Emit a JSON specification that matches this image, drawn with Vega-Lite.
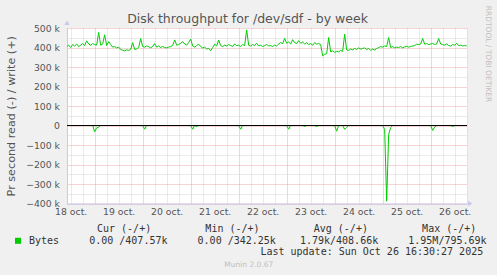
{
  "$schema": "https://vega.github.io/schema/vega-lite/v6.json",
  "autosize": {"type": "none"},
  "padding": {"left": 67, "top": 28, "right": 30, "bottom": 71.5},
  "width": 400,
  "height": 175.5,
  "background": "#f0f0f0",
  "title": {"text": "Disk throughput for /dev/sdf - by week", "font": "DejaVu Sans", "fontSize": 12.5, "fontWeight": "normal", "color": "#555555", "anchor": "middle", "frame": "group", "dx": -19.5, "dy": 26, "offset": 6},
  "config": {"view": {"stroke": null, "fill": "white"}},
  "data": {"values": [
    {"time":"2025-10-18T10:00:00Z","write":405000,"read":0},
    {"time":"2025-10-18T11:00:00Z","write":412000,"read":0},
    {"time":"2025-10-18T12:00:00Z","write":400000,"read":0},
    {"time":"2025-10-18T13:00:00Z","write":415000,"read":0},
    {"time":"2025-10-18T14:00:00Z","write":408000,"read":0},
    {"time":"2025-10-18T15:00:00Z","write":418000,"read":0},
    {"time":"2025-10-18T16:00:00Z","write":404000,"read":0},
    {"time":"2025-10-18T17:00:00Z","write":412000,"read":0},
    {"time":"2025-10-18T18:00:00Z","write":420000,"read":0},
    {"time":"2025-10-18T19:00:00Z","write":410000,"read":0},
    {"time":"2025-10-18T20:00:00Z","write":434000,"read":0},
    {"time":"2025-10-18T21:00:00Z","write":418000,"read":0},
    {"time":"2025-10-18T22:00:00Z","write":412000,"read":0},
    {"time":"2025-10-18T23:00:00Z","write":420000,"read":0},
    {"time":"2025-10-19T00:00:00Z","write":415000,"read":-32000},
    {"time":"2025-10-19T01:00:00Z","write":412000,"read":-12000},
    {"time":"2025-10-19T02:00:00Z","write":477000,"read":-8000},
    {"time":"2025-10-19T03:00:00Z","write":412000,"read":0},
    {"time":"2025-10-19T04:00:00Z","write":418000,"read":0},
    {"time":"2025-10-19T05:00:00Z","write":465000,"read":0},
    {"time":"2025-10-19T06:00:00Z","write":410000,"read":0},
    {"time":"2025-10-19T07:00:00Z","write":430000,"read":0},
    {"time":"2025-10-19T08:00:00Z","write":415000,"read":0},
    {"time":"2025-10-19T09:00:00Z","write":402000,"read":0},
    {"time":"2025-10-19T10:00:00Z","write":405000,"read":0},
    {"time":"2025-10-19T11:00:00Z","write":398000,"read":0},
    {"time":"2025-10-19T12:00:00Z","write":402000,"read":0},
    {"time":"2025-10-19T13:00:00Z","write":390000,"read":0},
    {"time":"2025-10-19T14:00:00Z","write":386000,"read":0},
    {"time":"2025-10-19T15:00:00Z","write":383000,"read":0},
    {"time":"2025-10-19T16:00:00Z","write":388000,"read":0},
    {"time":"2025-10-19T17:00:00Z","write":385000,"read":0},
    {"time":"2025-10-19T18:00:00Z","write":390000,"read":0},
    {"time":"2025-10-19T19:00:00Z","write":425000,"read":0},
    {"time":"2025-10-19T20:00:00Z","write":390000,"read":0},
    {"time":"2025-10-19T21:00:00Z","write":392000,"read":0},
    {"time":"2025-10-19T22:00:00Z","write":400000,"read":0},
    {"time":"2025-10-19T23:00:00Z","write":446000,"read":0},
    {"time":"2025-10-20T00:00:00Z","write":405000,"read":0},
    {"time":"2025-10-20T01:00:00Z","write":402000,"read":-19000},
    {"time":"2025-10-20T02:00:00Z","write":408000,"read":0},
    {"time":"2025-10-20T03:00:00Z","write":404000,"read":0},
    {"time":"2025-10-20T04:00:00Z","write":398000,"read":0},
    {"time":"2025-10-20T05:00:00Z","write":405000,"read":0},
    {"time":"2025-10-20T06:00:00Z","write":420000,"read":0},
    {"time":"2025-10-20T07:00:00Z","write":402000,"read":0},
    {"time":"2025-10-20T08:00:00Z","write":408000,"read":0},
    {"time":"2025-10-20T09:00:00Z","write":400000,"read":0},
    {"time":"2025-10-20T10:00:00Z","write":405000,"read":0},
    {"time":"2025-10-20T11:00:00Z","write":400000,"read":0},
    {"time":"2025-10-20T12:00:00Z","write":398000,"read":0},
    {"time":"2025-10-20T13:00:00Z","write":402000,"read":0},
    {"time":"2025-10-20T14:00:00Z","write":405000,"read":0},
    {"time":"2025-10-20T15:00:00Z","write":410000,"read":0},
    {"time":"2025-10-20T16:00:00Z","write":439000,"read":0},
    {"time":"2025-10-20T17:00:00Z","write":412000,"read":0},
    {"time":"2025-10-20T18:00:00Z","write":415000,"read":0},
    {"time":"2025-10-20T19:00:00Z","write":422000,"read":0},
    {"time":"2025-10-20T20:00:00Z","write":430000,"read":0},
    {"time":"2025-10-20T21:00:00Z","write":418000,"read":0},
    {"time":"2025-10-20T22:00:00Z","write":412000,"read":0},
    {"time":"2025-10-20T23:00:00Z","write":425000,"read":0},
    {"time":"2025-10-21T00:00:00Z","write":443000,"read":0},
    {"time":"2025-10-21T01:00:00Z","write":408000,"read":-19000},
    {"time":"2025-10-21T02:00:00Z","write":402000,"read":0},
    {"time":"2025-10-21T03:00:00Z","write":410000,"read":-5000},
    {"time":"2025-10-21T04:00:00Z","write":417000,"read":0},
    {"time":"2025-10-21T05:00:00Z","write":405000,"read":0},
    {"time":"2025-10-21T06:00:00Z","write":398000,"read":0},
    {"time":"2025-10-21T07:00:00Z","write":402000,"read":0},
    {"time":"2025-10-21T08:00:00Z","write":392000,"read":0},
    {"time":"2025-10-21T09:00:00Z","write":396000,"read":0},
    {"time":"2025-10-21T10:00:00Z","write":383000,"read":0},
    {"time":"2025-10-21T11:00:00Z","write":400000,"read":0},
    {"time":"2025-10-21T12:00:00Z","write":417000,"read":0},
    {"time":"2025-10-21T13:00:00Z","write":408000,"read":0},
    {"time":"2025-10-21T14:00:00Z","write":438000,"read":0},
    {"time":"2025-10-21T15:00:00Z","write":410000,"read":0},
    {"time":"2025-10-21T16:00:00Z","write":405000,"read":0},
    {"time":"2025-10-21T17:00:00Z","write":412000,"read":0},
    {"time":"2025-10-21T18:00:00Z","write":408000,"read":0},
    {"time":"2025-10-21T19:00:00Z","write":415000,"read":0},
    {"time":"2025-10-21T20:00:00Z","write":410000,"read":0},
    {"time":"2025-10-21T21:00:00Z","write":406000,"read":0},
    {"time":"2025-10-21T22:00:00Z","write":418000,"read":0},
    {"time":"2025-10-21T23:00:00Z","write":410000,"read":0},
    {"time":"2025-10-22T00:00:00Z","write":412000,"read":0},
    {"time":"2025-10-22T01:00:00Z","write":405000,"read":-19000},
    {"time":"2025-10-22T02:00:00Z","write":415000,"read":0},
    {"time":"2025-10-22T03:00:00Z","write":410000,"read":0},
    {"time":"2025-10-22T04:00:00Z","write":490000,"read":0},
    {"time":"2025-10-22T05:00:00Z","write":412000,"read":0},
    {"time":"2025-10-22T06:00:00Z","write":408000,"read":0},
    {"time":"2025-10-22T07:00:00Z","write":415000,"read":0},
    {"time":"2025-10-22T08:00:00Z","write":410000,"read":0},
    {"time":"2025-10-22T09:00:00Z","write":422000,"read":0},
    {"time":"2025-10-22T10:00:00Z","write":408000,"read":0},
    {"time":"2025-10-22T11:00:00Z","write":412000,"read":0},
    {"time":"2025-10-22T12:00:00Z","write":405000,"read":0},
    {"time":"2025-10-22T13:00:00Z","write":410000,"read":0},
    {"time":"2025-10-22T14:00:00Z","write":415000,"read":0},
    {"time":"2025-10-22T15:00:00Z","write":408000,"read":0},
    {"time":"2025-10-22T16:00:00Z","write":410000,"read":0},
    {"time":"2025-10-22T17:00:00Z","write":405000,"read":0},
    {"time":"2025-10-22T18:00:00Z","write":412000,"read":0},
    {"time":"2025-10-22T19:00:00Z","write":408000,"read":0},
    {"time":"2025-10-22T20:00:00Z","write":418000,"read":0},
    {"time":"2025-10-22T21:00:00Z","write":425000,"read":0},
    {"time":"2025-10-22T22:00:00Z","write":420000,"read":0},
    {"time":"2025-10-22T23:00:00Z","write":447000,"read":0},
    {"time":"2025-10-23T00:00:00Z","write":422000,"read":0},
    {"time":"2025-10-23T01:00:00Z","write":428000,"read":-19000},
    {"time":"2025-10-23T02:00:00Z","write":418000,"read":0},
    {"time":"2025-10-23T03:00:00Z","write":440000,"read":0},
    {"time":"2025-10-23T04:00:00Z","write":425000,"read":0},
    {"time":"2025-10-23T05:00:00Z","write":420000,"read":0},
    {"time":"2025-10-23T06:00:00Z","write":435000,"read":0},
    {"time":"2025-10-23T07:00:00Z","write":422000,"read":0},
    {"time":"2025-10-23T08:00:00Z","write":428000,"read":0},
    {"time":"2025-10-23T09:00:00Z","write":418000,"read":-5000},
    {"time":"2025-10-23T10:00:00Z","write":425000,"read":0},
    {"time":"2025-10-23T11:00:00Z","write":415000,"read":0},
    {"time":"2025-10-23T12:00:00Z","write":420000,"read":0},
    {"time":"2025-10-23T13:00:00Z","write":412000,"read":0},
    {"time":"2025-10-23T14:00:00Z","write":425000,"read":0},
    {"time":"2025-10-23T15:00:00Z","write":418000,"read":-5000},
    {"time":"2025-10-23T16:00:00Z","write":420000,"read":0},
    {"time":"2025-10-23T17:00:00Z","write":415000,"read":0},
    {"time":"2025-10-23T18:00:00Z","write":357000,"read":0},
    {"time":"2025-10-23T19:00:00Z","write":365000,"read":0},
    {"time":"2025-10-23T20:00:00Z","write":368000,"read":0},
    {"time":"2025-10-23T21:00:00Z","write":451000,"read":0},
    {"time":"2025-10-23T22:00:00Z","write":378000,"read":0},
    {"time":"2025-10-23T23:00:00Z","write":383000,"read":0},
    {"time":"2025-10-24T00:00:00Z","write":375000,"read":0},
    {"time":"2025-10-24T01:00:00Z","write":380000,"read":-29000},
    {"time":"2025-10-24T02:00:00Z","write":378000,"read":0},
    {"time":"2025-10-24T03:00:00Z","write":385000,"read":0},
    {"time":"2025-10-24T04:00:00Z","write":380000,"read":0},
    {"time":"2025-10-24T05:00:00Z","write":468000,"read":-20000},
    {"time":"2025-10-24T06:00:00Z","write":388000,"read":-10000},
    {"time":"2025-10-24T07:00:00Z","write":385000,"read":0},
    {"time":"2025-10-24T08:00:00Z","write":392000,"read":0},
    {"time":"2025-10-24T09:00:00Z","write":388000,"read":0},
    {"time":"2025-10-24T10:00:00Z","write":395000,"read":0},
    {"time":"2025-10-24T11:00:00Z","write":390000,"read":0},
    {"time":"2025-10-24T12:00:00Z","write":398000,"read":0},
    {"time":"2025-10-24T13:00:00Z","write":392000,"read":0},
    {"time":"2025-10-24T14:00:00Z","write":395000,"read":0},
    {"time":"2025-10-24T15:00:00Z","write":398000,"read":0},
    {"time":"2025-10-24T16:00:00Z","write":390000,"read":0},
    {"time":"2025-10-24T17:00:00Z","write":395000,"read":0},
    {"time":"2025-10-24T18:00:00Z","write":385000,"read":0},
    {"time":"2025-10-24T19:00:00Z","write":392000,"read":0},
    {"time":"2025-10-24T20:00:00Z","write":388000,"read":0},
    {"time":"2025-10-24T21:00:00Z","write":395000,"read":0},
    {"time":"2025-10-24T22:00:00Z","write":400000,"read":0},
    {"time":"2025-10-24T23:00:00Z","write":405000,"read":0},
    {"time":"2025-10-25T00:00:00Z","write":402000,"read":0},
    {"time":"2025-10-25T01:00:00Z","write":408000,"read":-20000},
    {"time":"2025-10-25T02:00:00Z","write":405000,"read":-388000},
    {"time":"2025-10-25T03:00:00Z","write":451000,"read":-46000},
    {"time":"2025-10-25T04:00:00Z","write":400000,"read":-10000},
    {"time":"2025-10-25T05:00:00Z","write":405000,"read":0},
    {"time":"2025-10-25T06:00:00Z","write":398000,"read":0},
    {"time":"2025-10-25T07:00:00Z","write":402000,"read":0},
    {"time":"2025-10-25T08:00:00Z","write":400000,"read":0},
    {"time":"2025-10-25T09:00:00Z","write":405000,"read":0},
    {"time":"2025-10-25T10:00:00Z","write":398000,"read":0},
    {"time":"2025-10-25T11:00:00Z","write":403000,"read":0},
    {"time":"2025-10-25T12:00:00Z","write":406000,"read":0},
    {"time":"2025-10-25T13:00:00Z","write":402000,"read":0},
    {"time":"2025-10-25T14:00:00Z","write":405000,"read":0},
    {"time":"2025-10-25T15:00:00Z","write":408000,"read":0},
    {"time":"2025-10-25T16:00:00Z","write":410000,"read":0},
    {"time":"2025-10-25T17:00:00Z","write":417000,"read":0},
    {"time":"2025-10-25T18:00:00Z","write":415000,"read":0},
    {"time":"2025-10-25T19:00:00Z","write":418000,"read":0},
    {"time":"2025-10-25T20:00:00Z","write":446000,"read":0},
    {"time":"2025-10-25T21:00:00Z","write":417000,"read":0},
    {"time":"2025-10-25T22:00:00Z","write":420000,"read":0},
    {"time":"2025-10-25T23:00:00Z","write":415000,"read":0},
    {"time":"2025-10-26T00:00:00Z","write":418000,"read":0},
    {"time":"2025-10-26T01:00:00Z","write":420000,"read":-25000},
    {"time":"2025-10-26T02:00:00Z","write":416000,"read":-8000},
    {"time":"2025-10-26T03:00:00Z","write":418000,"read":0},
    {"time":"2025-10-26T04:00:00Z","write":446000,"read":0},
    {"time":"2025-10-26T05:00:00Z","write":418000,"read":0},
    {"time":"2025-10-26T06:00:00Z","write":415000,"read":0},
    {"time":"2025-10-26T07:00:00Z","write":412000,"read":0},
    {"time":"2025-10-26T08:00:00Z","write":418000,"read":0},
    {"time":"2025-10-26T09:00:00Z","write":410000,"read":0},
    {"time":"2025-10-26T10:00:00Z","write":408000,"read":0},
    {"time":"2025-10-26T11:00:00Z","write":415000,"read":-5000},
    {"time":"2025-10-26T12:00:00Z","write":412000,"read":0},
    {"time":"2025-10-26T13:00:00Z","write":422000,"read":0},
    {"time":"2025-10-26T14:00:00Z","write":410000,"read":0},
    {"time":"2025-10-26T15:00:00Z","write":412000,"read":0},
    {"time":"2025-10-26T16:00:00Z","write":408000,"read":0},
    {"time":"2025-10-26T17:00:00Z","write":410000,"read":0},
    {"time":"2025-10-26T18:00:00Z","write":408000,"read":0}
  ]},
  "layer": [
    {
      "mark": {"type": "line", "strokeWidth": 1, "clip": true},
      "encoding": {
        "x": {"field": "time", "type": "temporal",
          "scale": {"type": "utc", "domain": [1760782200000, 1761502200000]},
          "axis": {"orient": "bottom",
            "values": [1760788800000,1760810400000,1760832000000,1760853600000,1760875200000,1760896800000,1760918400000,1760940000000,1760961600000,1760983200000,1761004800000,1761026400000,1761048000000,1761069600000,1761091200000,1761112800000,1761134400000,1761156000000,1761177600000,1761199200000,1761220800000,1761242400000,1761264000000,1761285600000,1761307200000,1761328800000,1761350400000,1761372000000,1761393600000,1761415200000,1761436800000,1761458400000,1761480000000,1761501600000],
            "labelExpr": "utchours(datum.value) === 12 ? utcFormat(datum.value, '%d') + ' oct.' : ''",
            "labelFont": "DejaVu Sans", "labelFontSize": 9.3, "labelColor": "#555555", "labelPadding": 4,
            "labelFlush": false, "labelOverlap": false, "labelBound": false,
            "ticks": false, "domainColor": "#c8c8f0", "domainWidth": 1,
            "grid": true,
            "gridColor": {"condition": {"test": "utchours(datum.value) === 0", "value": "#e8a8a8"}, "value": "#d4d4d4"},
            "gridDash": [1, 1],
            "title": "Last update: Sun Oct 26 16:30:27 2025",
            "titleFont": "DejaVu Sans Mono", "titleFontSize": 10, "titleFontWeight": "normal", "titleColor": "#333333",
            "titleX": 415.7, "titleY": 47.5, "titleAlign": "right", "titleBaseline": "middle", "titleAngle": 0}},
        "y": {"field": "write", "type": "quantitative",
          "scale": {"domain": [-400000, 500000], "nice": false, "zero": false},
          "axis": {"orient": "left",
            "values": [-400000,-350000,-300000,-250000,-200000,-150000,-100000,-50000,0,50000,100000,150000,200000,250000,300000,350000,400000,450000,500000],
            "labelExpr": "datum.value % 100000 !== 0 ? '' : (datum.value === 0 ? '0' : format(datum.value / 1000, 'd') + ' k')",
            "labelFont": "DejaVu Sans", "labelFontSize": 9.3, "labelColor": "#555555", "labelPadding": 7.5,
            "labelOverlap": false, "labelFlush": false, "labelBound": false,
            "ticks": false, "domainColor": "#c8c8f0", "domainWidth": 1,
            "grid": true,
            "gridColor": {"condition": {"test": "datum.value % 100000 === 0", "value": "#e8a8a8"}, "value": "#d4d4d4"},
            "gridDash": [1, 1],
            "title": "Pr second read (-) / write (+)",
            "titleFont": "DejaVu Sans", "titleFontSize": 11.2, "titleFontWeight": "normal", "titleColor": "#555555",
            "titleX": -56, "titleY": 87.75, "titleAlign": "center", "titleBaseline": "middle", "titleAngle": -90}},
        "color": {"datum": "Bytes", "type": "nominal",
          "scale": {"range": ["#00cc00"]},
          "legend": {"orient": "none", "legendX": -54, "legendY": 195.8, "padding": 0,
            "title": "\u2800\u2800\u2800\u2800\u2800\u2800\u2800\u2800\u2800\u2800\u2800\u2800Cur (-/+)\u00a0\u00a0\u00a0\u00a0\u00a0\u00a0\u00a0\u00a0\u00a0Min (-/+)\u00a0\u00a0\u00a0\u00a0\u00a0\u00a0\u00a0\u00a0\u00a0Avg (-/+)\u00a0\u00a0\u00a0\u00a0\u00a0\u00a0\u00a0\u00a0\u00a0Max (-/+)",
            "titleFont": "DejaVu Sans Mono", "titleFontSize": 10, "titleFontWeight": "normal", "titleColor": "#333333", "titleLimit": 1000, "titlePadding": 2, "titleAlign": "left", "titleAnchor": "start",
            "labelExpr": "'Bytes\u00a0\u00a0\u00a0\u00a0\u00a00.00 /407.57k\u00a0\u00a0\u00a0\u00a0\u00a00.00 /342.25k\u00a0\u00a0\u00a0\u00a01.79k/408.66k\u00a0\u00a0\u00a0\u00a0\u00a01.95M/795.69k'",
            "labelFont": "DejaVu Sans Mono", "labelFontSize": 10, "labelColor": "#333333", "labelLimit": 1000, "labelOffset": 6,
            "symbolType": "square", "symbolSize": 36, "symbolFillColor": "#00cc00", "symbolStrokeColor": "#00cc00", "symbolStrokeWidth": 0}}
      }
    },
    {
      "mark": {"type": "line", "strokeWidth": 1, "clip": true, "color": "#00cc00"},
      "encoding": {
        "x": {"field": "time", "type": "temporal",
          "axis": {"orient": "top", "labels": false, "ticks": false, "domain": false, "grid": false,
            "title": "Munin 2.0.67", "titleFont": "DejaVu Sans", "titleFontSize": 7.5, "titleFontWeight": "normal", "titleColor": "#c0c0c0",
            "titleX": 181.3, "titleY": 236.3, "titleAlign": "center", "titleBaseline": "middle", "titleAngle": 0}},
        "y": {"field": "read", "type": "quantitative",
          "axis": {"orient": "right", "labels": false, "ticks": false, "domain": false, "grid": false,
            "title": "RRDTOOL / TOBI OETIKER", "titleFont": "DejaVu Sans", "titleFontSize": 7.5, "titleFontWeight": "normal", "titleColor": "#c0c0c0",
            "titleX": 20.7, "titleY": 25.5, "titleAlign": "center", "titleBaseline": "middle", "titleAngle": 90}}
      }
    },
    {
      "mark": {"type": "rule", "color": "black", "strokeWidth": 1},
      "encoding": {"y": {"datum": 0, "type": "quantitative", "axis": null}}
    },
    {
      "data": {"values": [{}]},
      "mark": {"type": "point", "shape": "triangle-up", "size": 28, "filled": true, "color": "#c8c8f0", "opacity": 1, "clip": false},
      "encoding": {
        "x": {"datum": 1760782200000, "type": "temporal", "axis": null},
        "y": {"datum": 527000, "type": "quantitative", "axis": null}
      }
    },
    {
      "data": {"values": [{}]},
      "mark": {"type": "point", "shape": "triangle-right", "size": 28, "filled": true, "color": "#c8c8f0", "opacity": 1, "clip": false},
      "encoding": {
        "x": {"datum": 1761508000000, "type": "temporal", "axis": null},
        "y": {"datum": -400000, "type": "quantitative", "axis": null}
      }
    }
  ],
  "resolve": {"axis": {"x": "independent", "y": "independent"}}
}
